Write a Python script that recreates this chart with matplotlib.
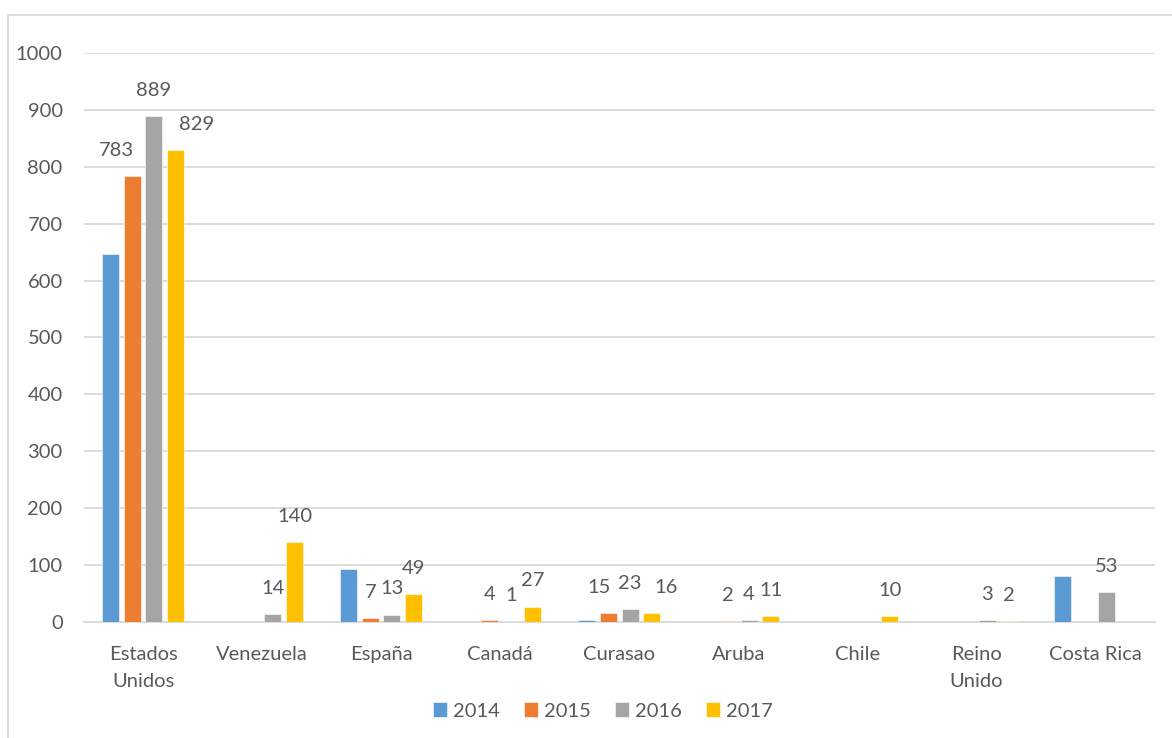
import matplotlib.pyplot as plt
import matplotlib.patches as mpatches
import numpy as np

paises = ['Estados\nUnidos', 'Venezuela', 'España', 'Canadá', 'Curasao',
          'Aruba', 'Chile', 'Reino\nUnido', 'Costa Rica']
anios = ['2014', '2015', '2016', '2017']
v2014 = [647, 0, 93, 2, 3, 0, 0, 0, 80]
v2015 = [783, 0, 7, 4, 15, 2, 0, 0, 0]
v2016 = [889, 14, 13, 1, 23, 4, 0, 3, 53]
v2017 = [829, 140, 49, 27, 16, 11, 10, 2, 0]
colores = ['#5B9BD5', '#ED7D31', '#A5A5A5', '#FFC000']

# which series get data labels (Excel showed none for 2014)
con_etiqueta = [False, True, True, True]

plt.rcParams['font.family'] = ['Lato', 'DejaVu Sans']
gris = '#595959'
fs = 14.5

fig = plt.figure(figsize=(11.72, 7.38), dpi=100)
ax = fig.add_axes([83.5 / 1172, 1 - 622 / 738, (1155 - 83.5) / 1172, (622 - 53) / 738])

# outer chart border
fig.patches.append(mpatches.Rectangle((8 / 1172, -0.1), 1.2, 1 - 15 / 738 + 0.1,
                                      transform=fig.transFigure, fill=False,
                                      edgecolor='#D9D9D9', linewidth=1.3))

x = np.arange(len(paises))
w = 0.143
paso = 0.182
series = [v2014, v2015, v2016, v2017]
# manual label shifts (px) to match where the labels were dragged in the original
despl = {(1, 0): -16, (3, 0): 21, (1, 4): -9, (3, 4): 14}

for i, (vals, col, lab) in enumerate(zip(series, colores, anios)):
    pos = x + (i - 1.5) * paso
    mask = np.array(vals) > 0
    ax.bar(pos[mask], np.array(vals)[mask], width=w, color=col, label=lab,
           edgecolor='white', linewidth=0.4, zorder=3)
    if con_etiqueta[i]:
        for j, v in enumerate(vals):
            if v > 0:
                dx = despl.get((i, j), 0) * 0.72
                ax.annotate(str(v), (pos[j], v), xytext=(dx, 18.5),
                            textcoords='offset points', ha='center', va='center',
                            fontsize=fs, color=gris)

ax.set_xlim(-0.5, len(paises) - 0.5)
ax.set_ylim(0, 1000)
ax.set_yticks(range(0, 1001, 100))
ax.yaxis.grid(True, color='#D9D9D9', linewidth=1.3, zorder=0)
ax.set_xticks(x)
ax.set_xticklabels(paises, fontsize=fs, color=gris, linespacing=1.75)
ax.tick_params(axis='y', labelsize=fs, labelcolor=gris, length=0, pad=15)
ax.tick_params(axis='x', length=0, pad=17)
for s in ['top', 'right', 'left']:
    ax.spines[s].set_visible(False)
ax.spines['bottom'].set_color('#D9D9D9')
ax.spines['bottom'].set_linewidth(1.3)

fig.legend(loc='center', bbox_to_anchor=(603 / 1172, 1 - 711 / 738), ncol=4,
           frameon=False, fontsize=fs, labelcolor=gris, handlelength=0.7,
           handleheight=0.7, handletextpad=0.3, columnspacing=1.2)

fig.savefig('out.png', dpi=100)
